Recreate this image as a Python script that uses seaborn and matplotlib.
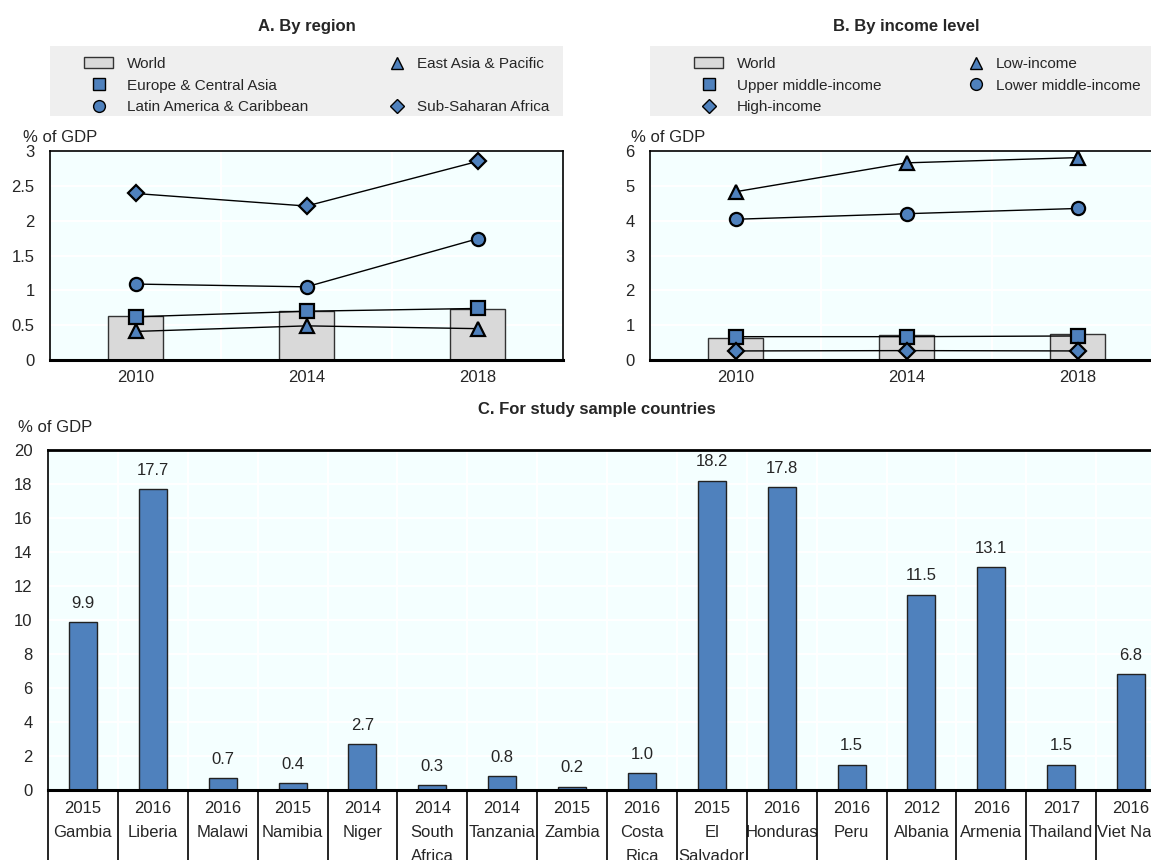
"""Remittances as % of GDP: by region, by income level and for the study countries."""
import matplotlib
matplotlib.use("Agg")
import matplotlib.pyplot as plt
from matplotlib.lines import Line2D
from matplotlib.patches import Patch, Rectangle
from matplotlib.ticker import FixedLocator, FormatStrFormatter
import numpy as np
import seaborn as sns

BLUE = "#4f81bd"
GREY_BAR = "#d9d9d9"
PLOT_BG = "#f4ffff"
LEGEND_BG = "#efefef"
FONT_SIZE = 12
LEGEND_SIZE = 11

W, H = 1151, 860

YEARS = ["2010", "2014", "2018"]
WORLD = [0.635, 0.71, 0.735]

EAST_ASIA = [0.41, 0.49, 0.45]
EUROPE_CA = [0.62, 0.70, 0.74]
LATIN_AM = [1.09, 1.05, 1.74]
SUB_SAHARAN = [2.39, 2.21, 2.85]

LOW_INC = [4.83, 5.66, 5.81]
LOWER_MID = [4.04, 4.20, 4.35]
UPPER_MID = [0.67, 0.67, 0.69]
HIGH_INC = [0.26, 0.27, 0.26]

COUNTRIES = ["Gambia", "Liberia", "Malawi", "Namibia", "Niger",
             "South\nAfrica", "Tanzania", "Zambia", "Costa\nRica",
             "El\nSalvador", "Honduras", "Peru", "Albania", "Armenia",
             "Thailand", "Viet Nam"]
COUNTRY_YEARS = ["2015", "2016", "2016", "2015", "2014", "2014", "2014",
                 "2015", "2016", "2015", "2016", "2016", "2012", "2016",
                 "2017", "2016"]
COUNTRY_VALUES = [9.9, 17.7, 0.7, 0.4, 2.7, 0.3, 0.8, 0.2, 1.0, 18.2,
                  17.8, 1.5, 11.5, 13.1, 1.5, 6.8]


def px_rect(left, top, width, height):
    return [left / W, 1 - (top + height) / H, width / W, height / H]


def style_axes(ax, ymax, ystep):
    ax.set_facecolor(PLOT_BG)
    ax.set_ylim(0, ymax)
    ax.yaxis.set_major_locator(FixedLocator(np.arange(0, ymax + ystep / 2, ystep)))
    ax.yaxis.set_major_formatter(FormatStrFormatter("%g"))
    n = len(ax.get_xticks())
    ax.set_xlim(-0.5, n - 0.5)
    ax.xaxis.set_minor_locator(FixedLocator(np.arange(0.5, n - 0.5, 1)))
    ax.tick_params(axis="y", direction="in", length=5, width=1, pad=11,
                   labelsize=FONT_SIZE)
    ax.tick_params(axis="x", which="major", length=0, labelsize=FONT_SIZE)
    ax.tick_params(axis="x", which="minor", direction="in", length=4, width=1)
    ax.set_axisbelow(True)
    ax.grid(True, axis="y", which="major", color="white", linewidth=1.5)
    ax.grid(True, axis="x", which="minor", color="white", linewidth=1.5)
    ax.grid(False, axis="x", which="major")
    for side in ["top", "left", "right"]:
        ax.spines[side].set_color("black")
        ax.spines[side].set_linewidth(1.2)
    ax.spines["bottom"].set_color("black")
    ax.spines["bottom"].set_linewidth(2.2)
    ax.set_xlabel("")
    ax.set_ylabel("")


def draw_series(ax, values, marker, size):
    sns.pointplot(
        x=YEARS, y=values, order=YEARS, color="black", markers=marker,
        linestyles="-", linewidth=1, markersize=size, markeredgewidth=1.6,
        markerfacecolor=BLUE, markeredgecolor="black", errorbar=None,
        ax=ax, zorder=3,
    )


def marker_handle(marker, size):
    return Line2D([], [], linestyle="none", marker=marker, markersize=size,
                  markerfacecolor=BLUE, markeredgecolor="black",
                  markeredgewidth=1.0)


def column_legend(fig, handles, labels, x_px, y_px, handlelength, textpad):
    fig.legend(
        handles, labels, loc="upper left",
        bbox_to_anchor=(x_px / W, 1 - y_px / H),
        bbox_transform=fig.transFigure, frameon=False,
        fontsize=LEGEND_SIZE, handlelength=handlelength,
        handletextpad=textpad, labelspacing=0.5, borderpad=0,
        borderaxespad=0,
    )


def world_panel(fig, rect, series, ymax, ystep, title):
    ax = fig.add_axes(rect)
    sns.barplot(
        x=YEARS, y=WORLD, order=YEARS, color=GREY_BAR, saturation=1,
        edgecolor="#333333", linewidth=1, width=0.32, ax=ax, zorder=2,
    )
    for values, marker, size in series:
        draw_series(ax, values, marker, size)
    style_axes(ax, ymax, ystep)
    ax.tick_params(axis="x", which="major", pad=7)
    center = rect[0] + rect[2] / 2
    fig.text(center, 1 - 27 / H, title, ha="center", va="center",
             fontsize=FONT_SIZE, fontweight="bold")
    return ax


def main():
    sns.set_theme(style="white")
    plt.rcParams["font.family"] = ["Liberation Sans", "DejaVu Sans"]

    fig = plt.figure(figsize=(W / 100, H / 100), dpi=100)

    # A. por region
    world_panel(
        fig, px_rect(50, 151, 513, 209),
        [(EAST_ASIA, "^", 9.5), (EUROPE_CA, "s", 9.5), (LATIN_AM, "o", 9.5),
         (SUB_SAHARAN, "D", 8)],
        3, 0.5, "A. By region",
    )
    # B. por nivel de ingreso
    world_panel(
        fig, px_rect(650, 151, 513, 209),
        [(LOW_INC, "^", 9.5), (LOWER_MID, "o", 9.5), (UPPER_MID, "s", 9.5),
         (HIGH_INC, "D", 8)],
        6, 1, "B. By income level",
    )

    for left in [50, 650]:
        fig.add_artist(Rectangle(
            (left / W, 1 - 116 / H), 513 / W, 70 / H,
            transform=fig.transFigure, facecolor=LEGEND_BG,
            edgecolor="none", zorder=0,
        ))

    world_patch = Patch(facecolor=GREY_BAR, edgecolor="#333333", linewidth=1)
    blank = Line2D([], [], linestyle="none")

    column_legend(
        fig,
        [world_patch, marker_handle("s", 8.5), marker_handle("o", 8.5)],
        ["World", "Europe & Central Asia", "Latin America & Caribbean"],
        84, 57, 1.9, 0.9,
    )
    column_legend(
        fig,
        [marker_handle("^", 8.5), blank, marker_handle("D", 7)],
        ["East Asia & Pacific", " ", "Sub-Saharan Africa"],
        387, 57, 1.3, 0.65,
    )
    column_legend(
        fig,
        [world_patch, marker_handle("s", 8.5), marker_handle("D", 7)],
        ["World", "Upper middle-income", "High-income"],
        694, 57, 1.9, 0.9,
    )
    column_legend(
        fig,
        [marker_handle("^", 8.5), marker_handle("o", 8.5), blank],
        ["Low-income", "Lower middle-income", " "],
        966, 57, 1.3, 0.65,
    )

    fig.text(23 / W, 1 - 137 / H, "% of GDP", ha="left", va="center",
             fontsize=FONT_SIZE)
    fig.text(631 / W, 1 - 137 / H, "% of GDP", ha="left", va="center",
             fontsize=FONT_SIZE)

    # C. paises de la muestra
    rect_c = px_rect(48, 450, 1118, 340)
    ax = fig.add_axes(rect_c)
    tick_labels = [f"{yr}\n{c}" for yr, c in zip(COUNTRY_YEARS, COUNTRIES)]
    sns.barplot(
        x=tick_labels, y=COUNTRY_VALUES, order=tick_labels, color=BLUE,
        saturation=1, edgecolor="#222222", linewidth=1, width=0.4, ax=ax,
        zorder=2,
    )
    ax.bar_label(ax.containers[0], fmt="%.1f", padding=8, fontsize=FONT_SIZE)
    style_axes(ax, 20, 2)
    ax.spines["top"].set_linewidth(2.0)
    ax.tick_params(axis="x", which="major", pad=8)
    for lbl in ax.get_xticklabels():
        lbl.set_linespacing(1.75)
        lbl.set_verticalalignment("top")
    n = len(tick_labels)
    ax.vlines(np.arange(n + 1) - 0.5, -0.3, 0, color="black", linewidth=1.2,
              transform=ax.get_xaxis_transform(), clip_on=False)
    fig.text(rect_c[0] + rect_c[2] / 2 - 10 / W, 1 - 409 / H,
             "C. For study sample countries", ha="center", va="center",
             fontsize=FONT_SIZE, fontweight="bold")
    fig.text(18 / W, 1 - 428 / H, "% of GDP", ha="left", va="center",
             fontsize=FONT_SIZE)

    fig.savefig("out.png", dpi=100)
    plt.close(fig)


if __name__ == "__main__":
    main()
